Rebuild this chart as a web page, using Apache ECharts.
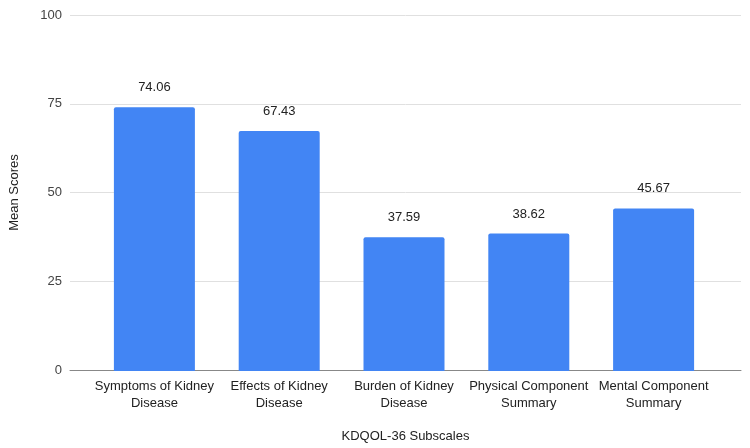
<!DOCTYPE html>
<html>
<head>
    <meta charset="utf-8">
    <title>KDQOL-36 Subscales</title>
    <script src="https://cdn.jsdelivr.net/npm/echarts@6/dist/echarts.min.js"></script>
    <style type="text/css">
        body{ margin: 0; }
        #main{ width: 750px; height: 448px; }
    </style>
</head>
<body>
<div id="main"></div>
<script>
    var categories = ["Symptoms of Kidney\nDisease", "Effects of Kidney\nDisease", "Burden of Kidney\nDisease", "Physical Component\nSummary", "Mental Component\nSummary"];
    var scores = [74.06, 67.43, 37.59, 38.62, 45.67];
    var yTicks = [0, 25, 50, 75, 100];

    var myChart = echarts.init(document.getElementById('main'));
    // grid 0: gridlines, y labels and base line across the full width
    // grid 1: the bars, inset like the original
    var option = {
        animation: false,
        textStyle: { fontFamily: '"Liberation Sans", Arial, sans-serif' },
        grid: [
            { left: 70, right: 9, top: 15, bottom: 77 },
            { left: 92, right: 34, top: 15, bottom: 77 }
        ],
        xAxis: [{
            gridIndex: 0,
            type: 'value',
            min: 0,
            max: 1,
            name: 'KDQOL-36 Subscales',
            nameLocation: 'middle',
            nameGap: 60,
            nameTextStyle: { color: '#222', fontSize: 13 },
            axisLine: { lineStyle: { color: '#888', width: 1 } },
            axisTick: { show: false },
            axisLabel: { show: false },
            splitLine: { show: false }
        }, {
            gridIndex: 1,
            type: 'category',
            data: categories,
            axisLine: { show: false },
            axisTick: { show: false },
            axisLabel: { color: '#222', fontSize: 13, margin: 7, lineHeight: 17, interval: 0 }
        }],
        yAxis: [{
            gridIndex: 0,
            type: 'value',
            min: yTicks[0],
            max: yTicks[yTicks.length - 1],
            interval: 25,
            name: 'Mean Scores',
            nameLocation: 'middle',
            nameGap: 49,
            nameTextStyle: { color: '#222', fontSize: 13 },
            axisLine: { show: false },
            axisTick: { show: false },
            axisLabel: { color: '#444', fontSize: 13, margin: 8 },
            splitLine: { lineStyle: { color: '#e0e0e0', width: 1 } }
        }, {
            gridIndex: 1,
            type: 'value',
            min: yTicks[0],
            max: yTicks[yTicks.length - 1],
            interval: 25,
            show: false
        }],
        series: [{
            name: 'Mean Scores',
            type: 'bar',
            xAxisIndex: 1,
            yAxisIndex: 1,
            data: scores,
            barWidth: 81,
            itemStyle: { color: '#4285F4', borderRadius: [2, 2, 0, 0] },
            label: {
                show: true,
                position: 'top',
                distance: 13,
                color: '#222',
                fontSize: 13,
                formatter: function (p) { return p.value.toFixed(2); }
            }
        }]
    };
    myChart.setOption(option);
</script>
</body>
</html>
